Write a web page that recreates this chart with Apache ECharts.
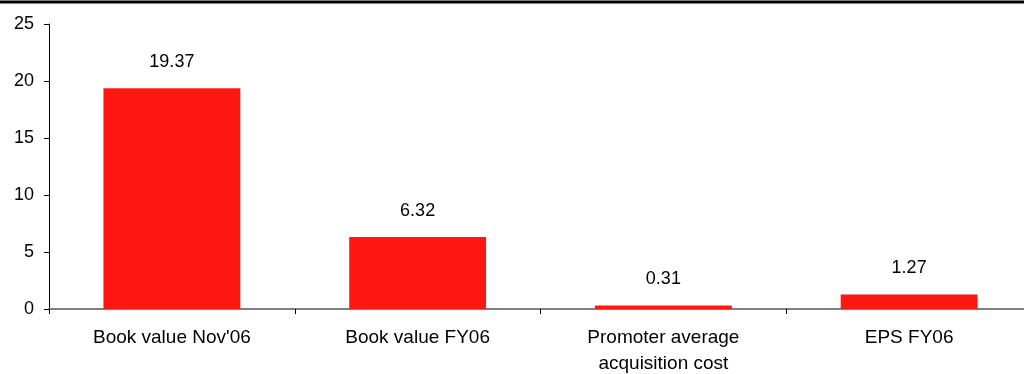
<!DOCTYPE html>
<html>
<head>
<meta charset="utf-8">
<style>
  html, body { margin: 0; padding: 0; background: #ffffff; }
  #chart { width: 1024px; height: 374px; }
</style>
<script src="https://cdn.jsdelivr.net/npm/echarts@6/dist/echarts.min.js"></script>
</head>
<body>
<div id="chart"></div>
<script>
// Per-share figures (Rs)
const categories = ["Book value Nov'06", "Book value FY06", "Promoter average\nacquisition cost", "EPS FY06"];
const values = [19.37, 6.32, 0.31, 1.27];
const yTicks = { min: 0, max: 25, interval: 5 };

const FONT = '"Liberation Sans", Arial, sans-serif';

const chart = echarts.init(document.getElementById('chart'), null, { renderer: 'canvas' });

chart.setOption({
  animation: false,
  backgroundColor: '#ffffff',
  // plot runs past the right edge so the last category is cut off by the frame
  grid: { left: 49, width: 983, top: 24, bottom: 65, containLabel: false, outerBoundsMode: 'none' },
  graphic: [{
    type: 'line',
    shape: { x1: 0, y1: 2, x2: 1024, y2: 2 },
    style: { stroke: '#000000', lineWidth: 3 }
  }],
  xAxis: {
    type: 'category',
    data: categories,
    boundaryGap: true,
    axisLine: { show: true, lineStyle: { color: '#808080', width: 2 } },
    axisTick: { show: true, alignWithLabel: false, length: 5, lineStyle: { color: '#000000', width: 1 } },
    axisLabel: {
      color: '#000000', fontFamily: FONT, fontSize: 19, margin: 16,
      lineHeight: 26, interval: 0
    },
    splitLine: { show: false }
  },
  yAxis: {
    type: 'value',
    min: yTicks.min, max: yTicks.max, interval: yTicks.interval,
    axisLine: { show: true, lineStyle: { color: '#000000', width: 1 } },
    axisTick: { show: true, inside: false, length: 5, lineStyle: { color: '#000000' } },
    axisLabel: { color: '#000000', fontFamily: FONT, fontSize: 18, margin: 15 },
    splitLine: { show: false }
  },
  series: [{
    type: 'bar',
    data: values,
    barWidth: '55.7%',
    itemStyle: { color: '#ff1712' },
    label: {
      show: true, position: 'top', distance: 17,
      color: '#000000', fontFamily: FONT, fontSize: 18,
      formatter: p => p.value.toFixed(2)
    }
  }]
});
</script>
</body>
</html>
